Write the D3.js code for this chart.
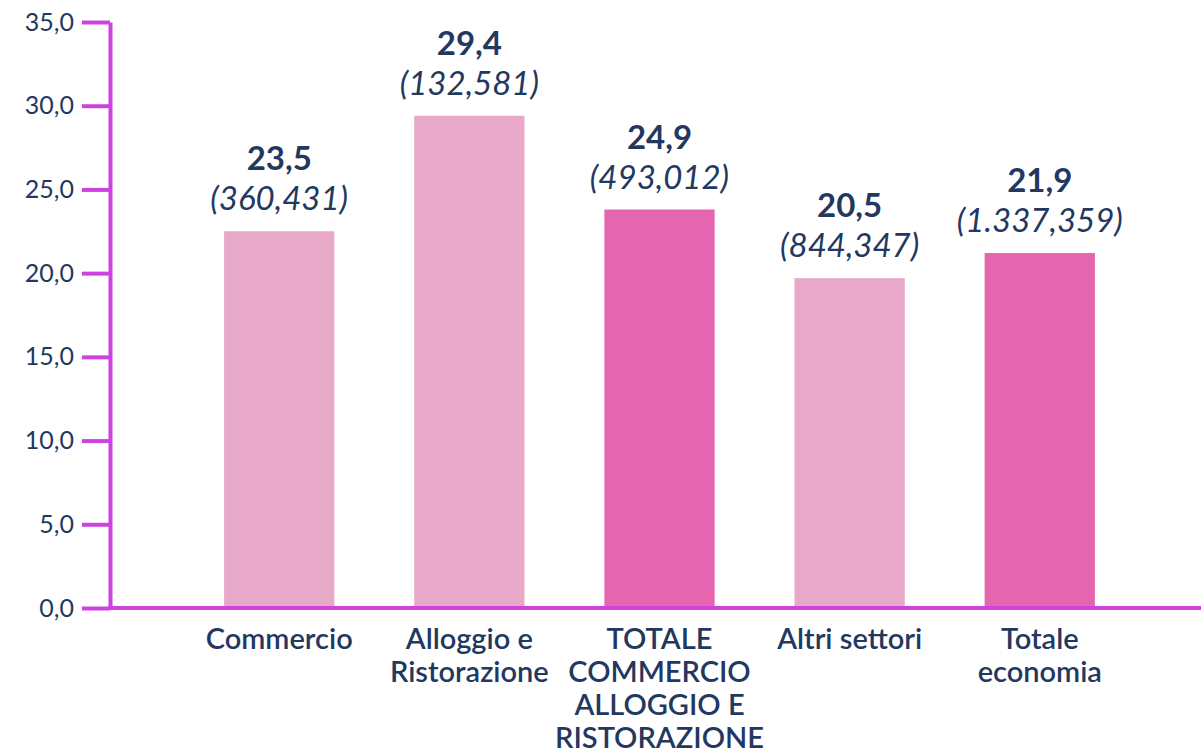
<!DOCTYPE html>
<html>
<head>
<meta charset="utf-8">
<script src="https://cdn.jsdelivr.net/npm/d3@7"></script>
<style>
  body { margin: 0; background: #fff; }
  text { font-family: Lato, 'Open Sans', sans-serif; fill: #23385f; }
</style>
</head>
<body>
<svg class="chart"></svg>
<script>
const vWidth = 1201
const vHeight = 756

const categories = [
  ['Commercio'],
  ['Alloggio e', 'Ristorazione'],
  ['TOTALE', 'COMMERCIO', 'ALLOGGIO E', 'RISTORAZIONE'],
  ['Altri settori'],
  ['Totale', 'economia']
]
// bar heights as drawn in the picture
const barValues = [22.5, 29.4, 23.8, 19.7, 21.2]
// labels printed above the bars
const valueLabels = ['23,5', '29,4', '24,9', '20,5', '21,9']
const countLabels = ['(360,431)', '(132,581)', '(493,012)', '(844,347)', '(1.337,359)']
const isTotal = [false, false, true, false, true]
const yTicks = [0, 5, 10, 15, 20, 25, 30, 35]

const lightPink = '#e8a9c8'
const darkPink = '#e565b0'
const axisColor = '#d042e0'

const itLocale = d3.formatLocale({ decimal: ',', thousands: '.', grouping: [3], currency: ['', '€'] })
const fmt = itLocale.format('.1f')

const svg = d3.select('.chart')
  .attr('width', vWidth)
  .attr('height', vHeight)

const y = d3.scaleLinear()
  .domain([0, 35])
  .range([608, 22])

const x = d3.scaleBand()
  .domain(d3.range(categories.length))
  .range([110, 1209])
  .paddingInner(0.42)
  .paddingOuter(0.6)

// bars
svg.selectAll('rect.bar')
  .data(barValues)
  .enter()
  .append('rect')
  .attr('class', 'bar')
  .attr('x', (_, i) => x(i))
  .attr('width', x.bandwidth())
  .attr('y', (d) => y(d))
  .attr('height', (d) => y(0) - y(d))
  .attr('fill', (_, i) => isTotal[i] ? darkPink : lightPink)

// y axis
const yAxis = svg.append('g')
  .attr('transform', 'translate(110,0)')
  .call(d3.axisLeft(y).tickValues(yTicks).tickFormat(fmt).tickSize(28).tickPadding(8).tickSizeOuter(0))
yAxis.select('.domain').attr('stroke', axisColor).attr('stroke-width', 4)
yAxis.selectAll('.tick line').attr('stroke', axisColor).attr('stroke-width', 4)
yAxis.selectAll('.tick text')
  .attr('font-size', '25px')
  .attr('fill', '#23385f')
  .style('font-family', 'Lato, sans-serif')

// x axis baseline
svg.append('line')
  .attr('x1', 108)
  .attr('x2', vWidth)
  .attr('y1', y(0))
  .attr('y2', y(0))
  .attr('stroke', axisColor)
  .attr('stroke-width', 4)

// category labels
const cats = svg.selectAll('text.cat')
  .data(categories)
  .enter()
  .append('text')
  .attr('class', 'cat')
  .attr('text-anchor', 'middle')
  .attr('font-size', '29px')
  .attr('font-weight', 600)
  .attr('transform', (_, i) => 'translate(' + [x(i) + x.bandwidth() / 2, 649] + ')')

cats.selectAll('tspan')
  .data((d) => d)
  .enter()
  .append('tspan')
  .attr('x', 0)
  .attr('y', (_, j) => j * 33)
  .text((d) => d)

// value labels
svg.selectAll('text.val')
  .data(barValues)
  .enter()
  .append('text')
  .attr('class', 'val')
  .attr('text-anchor', 'middle')
  .attr('font-size', '33px')
  .attr('font-weight', 'bold')
  .attr('x', (_, i) => x(i) + x.bandwidth() / 2)
  .attr('y', (d) => y(d) - 61)
  .text((_, i) => valueLabels[i])

svg.selectAll('text.count')
  .data(barValues)
  .enter()
  .append('text')
  .attr('class', 'count')
  .attr('text-anchor', 'middle')
  .attr('font-size', '33px')
  .attr('font-style', 'italic')
  .attr('x', (_, i) => x(i) + x.bandwidth() / 2)
  .attr('y', (d) => y(d) - 21)
  .text((_, i) => countLabels[i])
</script>
</body>
</html>
